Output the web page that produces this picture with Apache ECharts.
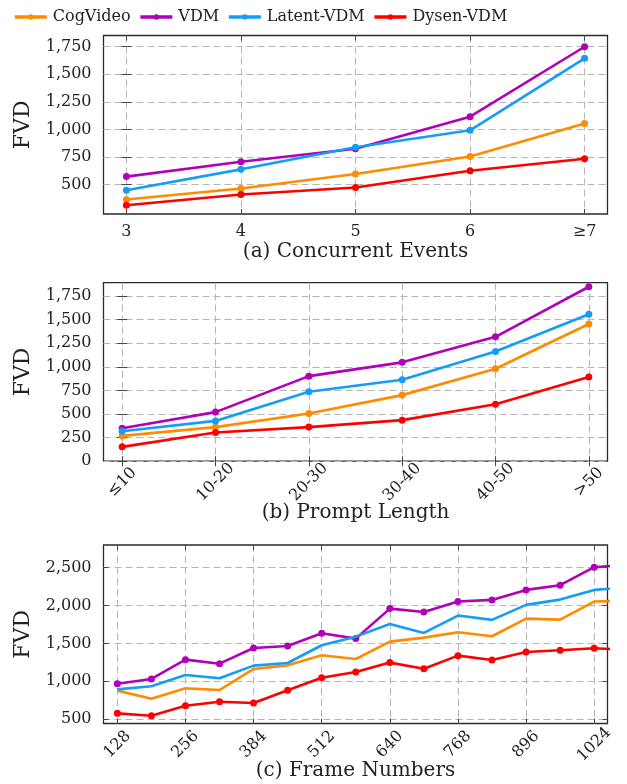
<!DOCTYPE html>
<html><head><meta charset="utf-8">
<script src="https://cdn.jsdelivr.net/npm/echarts@6/dist/echarts.min.js"></script>
<style>html,body{margin:0;padding:0;background:#fff}#c{width:627px;height:784px}</style>
</head><body><div id="c"></div>
<script>
// ---- data ----
var seriesNames = ['CogVideo', 'VDM', 'Latent-VDM', 'Dysen-VDM'];

var catA = ['3', '4', '5', '6', '≥7'];
var cogA = [365, 464, 596, 755, 1053];
var vdmA = [572, 707, 825, 1116, 1750];
var latA = [449, 638, 839, 992, 1645];
var dysA = [313, 410, 473, 626, 734];

var catB = ['≤10', '10-20', '20-30', '30-40', '40-50', '>50'];
var cogB = [268, 361, 506, 700, 979, 1453];
var vdmB = [350, 520, 901, 1047, 1318, 1848];
var latB = [318, 427, 735, 862, 1163, 1556];
var dysB = [152, 304, 361, 435, 604, 891];

var framesC = [128, 192, 256, 320, 384, 448, 512, 576, 640, 704, 768, 832, 896, 960, 1024, 1088];
var frameTicksC = [128, 256, 384, 512, 640, 768, 896, 1024];
var cogC = [877, 771, 907, 885, 1163, 1211, 1344, 1295, 1524, 1577, 1648, 1595, 1828, 1815, 2053, 2065];
var vdmC = [969, 1031, 1286, 1233, 1440, 1467, 1634, 1564, 1960, 1916, 2053, 2075, 2207, 2269, 2507, 2540];
var latC = [894, 934, 1084, 1040, 1207, 1242, 1476, 1590, 1758, 1639, 1868, 1811, 2009, 2079, 2207, 2240];
var dysC = [577, 546, 678, 731, 714, 881, 1048, 1123, 1247, 1167, 1339, 1282, 1388, 1410, 1436, 1415];

var yTicksA = [500, 750, 1000, 1250, 1500, 1750];
var yTicksB = [0, 250, 500, 750, 1000, 1250, 1500, 1750];
var yTicksC = [500, 1000, 1500, 2000, 2500];

var titles = ['(a) Concurrent Events', '(b) Prompt Length', '(c) Frame Numbers'];

// ---- styling ----
var colors = ['#ff8c00', '#b000b8', '#159cf5', '#ff0000'];
var FONT = 'DejaVu Serif';
var gridTops = [35.5, 282.7, 545];
var GL = 103.5, GW = 504, GH = 178.5;

function idx(n) { var a = []; for (var i = 0; i < n; i++) a.push(i); return a; }
function pairs(xs, ys) { return ys.map(function (v, i) { return [xs[i], v]; }); }

var grids = [], xAxes = [], yAxes = [], series = [], title = [];

function fmtNum(v) { return v >= 1000 ? Math.floor(v / 1000) + ',' + String(v % 1000).padStart(3, '0') : String(v); }

var tickStyle = { color: '#444', width: 1 };
var gridLine = { color: '#b5b5b5', type: [7, 4], width: 1 };

function addPanel(k, xMin, xMax, xTicks, xFmt, rotate, yMin, yMax, yTicks, data, showSym) {
  grids.push({ left: GL, top: gridTops[k], width: GW, height: GH, show: true,
    borderColor: '#2a2a2a', borderWidth: 1.3, backgroundColor: 'transparent' });
  var xl = rotate ? { show: true, customValues: xTicks, formatter: xFmt, rotate: 45, align: 'center',
      verticalAlign: 'middle', margin: 21, fontFamily: FONT, fontSize: 16, color: '#222' }
    : { show: true, customValues: xTicks, formatter: xFmt, margin: 10, fontFamily: FONT, fontSize: 16, color: '#222' };
  xAxes.push({ type: 'value', gridIndex: k, min: xMin, max: xMax, position: 'bottom',
    axisLine: { show: false }, axisLabel: xl,
    axisTick: { show: true, inside: true, length: 5, customValues: xTicks, lineStyle: tickStyle },
    splitLine: { show: true, lineStyle: gridLine } });
  xAxes.push({ type: 'value', gridIndex: k, min: xMin, max: xMax, position: 'top',
    axisLine: { show: false }, axisLabel: { show: false, customValues: xTicks },
    axisTick: { show: true, inside: true, length: 5, customValues: xTicks, lineStyle: tickStyle },
    splitLine: { show: false } });
  yAxes.push({ type: 'value', gridIndex: k, min: yMin, max: yMax, position: 'left',
    name: 'FVD', nameLocation: 'middle', nameGap: 69, nameRotate: 90,
    nameTextStyle: { fontFamily: FONT, fontSize: 22, color: '#222' },
    axisLine: { show: false },
    axisLabel: { show: true, customValues: yTicks, formatter: fmtNum, margin: 12, fontFamily: FONT, fontSize: 16, color: '#222' },
    axisTick: { show: true, inside: true, length: 5, customValues: yTicks, lineStyle: tickStyle },
    splitLine: { show: true, lineStyle: gridLine } });
  yAxes.push({ type: 'value', gridIndex: k, min: yMin, max: yMax, position: 'right',
    axisLine: { show: false }, axisLabel: { show: false, customValues: yTicks },
    axisTick: { show: true, inside: true, length: 5, customValues: yTicks, lineStyle: tickStyle },
    splitLine: { show: false } });
  data.forEach(function (d, s) {
    series.push({ type: 'line', name: seriesNames[s], xAxisIndex: 2 * k, yAxisIndex: 2 * k,
      data: d, clip: true, symbol: 'circle', symbolSize: 7, showSymbol: showSym[s],
      lineStyle: { color: colors[s], width: 2.6 }, itemStyle: { color: colors[s] },
      emphasis: { disabled: true }, animation: false, z: 3 + s });
  });
  title.push({ text: titles[k], left: GL + GW / 2, textAlign: 'center',
    top: [242, 503, 761][k], padding: 0,
    textStyle: { fontFamily: FONT, fontSize: 20, fontWeight: 'normal', color: '#222' } });
}

var iA = idx(catA.length), iB = idx(catB.length);
addPanel(0, -0.2, 4.2, iA, function (v) { return catA[Math.round(v)]; }, false, 233, 1852, yTicksA,
  [pairs(iA, cogA), pairs(iA, vdmA), pairs(iA, latA), pairs(iA, dysA)], [true, true, true, true]);
addPanel(1, -0.2, 5.2, iB, function (v) { return catB[Math.round(v)]; }, true, 0, 1891, yTicksB,
  [pairs(iB, cogB), pairs(iB, vdmB), pairs(iB, latB), pairs(iB, dysB)], [true, true, true, true]);
addPanel(2, 102, 1049, frameTicksC, function (v) { return String(v); }, true, 443, 2800, yTicksC,
  [pairs(framesC, cogC), pairs(framesC, vdmC), pairs(framesC, latC), pairs(framesC, dysC)], [false, true, false, true]);

var chart = echarts.init(document.getElementById('c'), null, { renderer: 'canvas' });
chart.setOption({
  animation: false,
  backgroundColor: '#fff',
  title: title,
  legend: { left: 8, top: 4, itemWidth: 32, itemHeight: 7, itemGap: 8,
    data: seriesNames,
    itemStyle: { borderWidth: 0 },
    lineStyle: { width: 3.5 },
    textStyle: { fontFamily: FONT, fontSize: 16, color: '#222', padding: [0, 0, 0, 1] } },
  grid: grids, xAxis: xAxes, yAxis: yAxes, series: series
});
</script></body></html>
